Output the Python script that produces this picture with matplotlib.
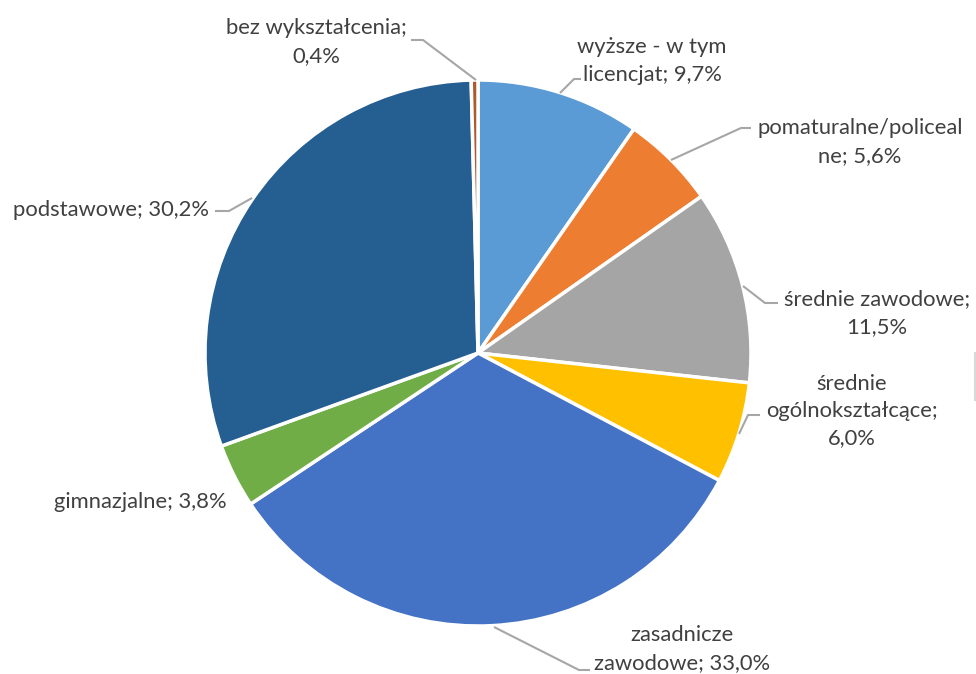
import matplotlib.pyplot as plt

# Dane: struktura wykształcenia
kategorie = ['wyższe - w tym licencjat', 'pomaturalne/policealne', 'średnie zawodowe',
             'średnie ogólnokształcące', 'zasadnicze zawodowe', 'gimnazjalne',
             'podstawowe', 'bez wykształcenia']
udzialy = [9.7, 5.6, 11.5, 6.0, 33.0, 3.8, 30.2, 0.4]
kolory = ['#5B9BD5', '#ED7D31', '#A5A5A5', '#FFC000', '#4472C4', '#70AD47',
          '#255E91', '#B0592A']

# Podziały linii etykiet (tak jak w oryginale)
etykiety_tekst = ['wyższe - w tym\nlicencjat; {}', 'pomaturalne/policeal\nne; {}',
                  'średnie zawodowe;\n{}', 'średnie\nogólnokształcące;\n{}',
                  'zasadnicze\nzawodowe; {}', 'gimnazjalne; {}', 'podstawowe; {}',
                  'bez wykształcenia;\n{}']

# Układ (piksele, y od góry)
W, H = 976, 674
srodek = (478, 353)
promien = 273
pozycje_etykiet = [(652, 61), (860, 142), (877, 313), (852, 411),
                   (682, 649), (140, 502), (111, 210), (316, 42)]
linie = [
    [(560, 93), (574, 79), (581, 79)],
    [(671, 160), (741, 128), (751, 128)],
    [(743, 286), (765, 303), (778, 303)],
    [(739, 434), (748, 415), (760, 415)],
    [(494, 627), (579, 670), (590, 670)],
    None,
    [(252, 198), (229, 211), (215, 211)],
    [(476, 80), (423, 40), (411, 40)],
]

fig = plt.figure(figsize=(W / 100, H / 100), dpi=100)
ax = fig.add_axes([0, 0, 1, 1])

ax.pie(udzialy, colors=kolory, startangle=90, counterclock=False,
       center=(srodek[0], H - srodek[1]), radius=promien,
       wedgeprops=dict(edgecolor='white', linewidth=2.5))

for szablon, wartosc, (x, y), linia in zip(etykiety_tekst, udzialy, pozycje_etykiet, linie):
    tekst = szablon.format(f'{wartosc:.1f}%'.replace('.', ','))
    ax.text(x, H - y, tekst, ha='center', va='center', fontsize=15.8,
            family='Lato', color='#404040', linespacing=1.45)
    if linia:
        xs = [p[0] for p in linia]
        ys = [H - p[1] for p in linia]
        ax.plot(xs, ys, color='#A6A6A6', linewidth=1.5, solid_capstyle='butt')

# fragment ramki po prawej
ax.plot([975, 975], [H - 353, H - 400], color='#D9D9D9', linewidth=1.5)

ax.set_xlim(0, W)
ax.set_ylim(0, H)
ax.set_aspect('auto')
ax.axis('off')

plt.savefig('out.png', dpi=100)
